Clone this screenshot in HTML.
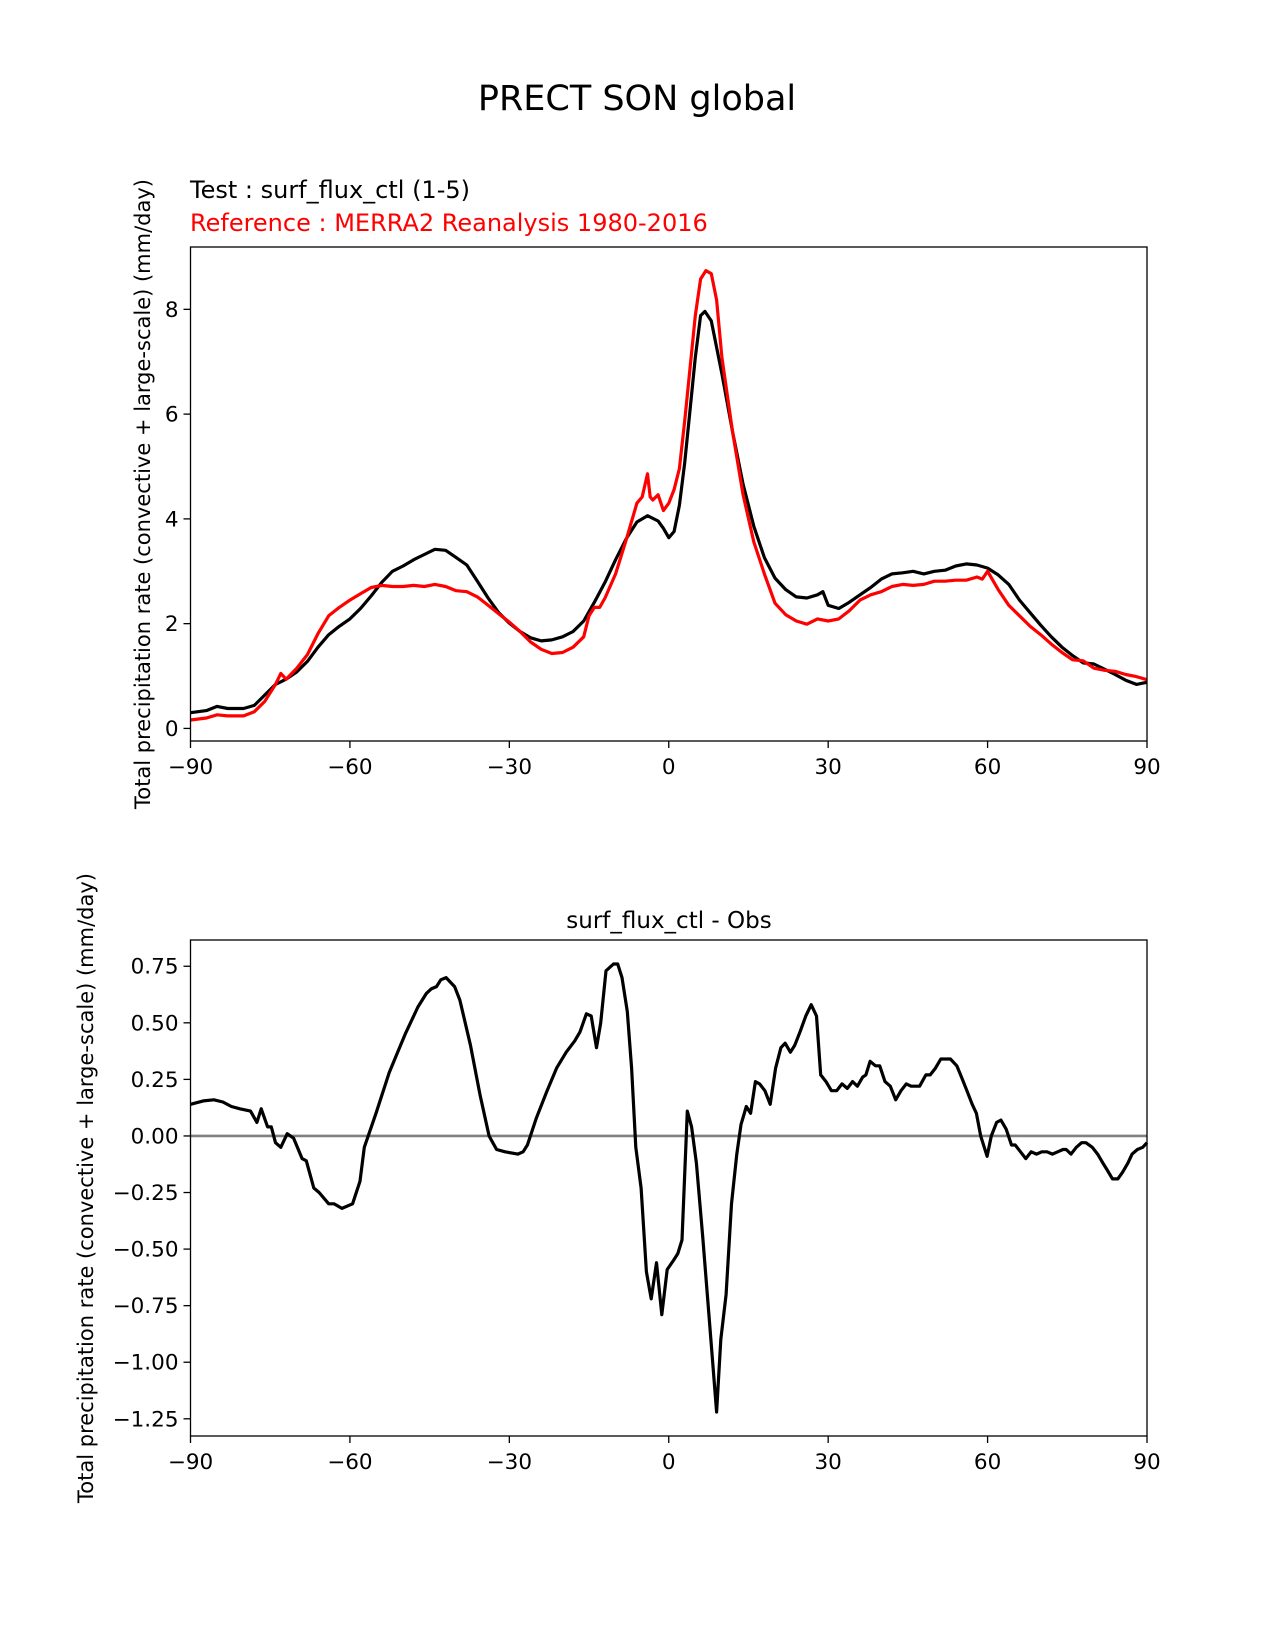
<!DOCTYPE html>
<html><head><meta charset="utf-8"><style>
body{margin:0;background:#fff;}
svg{display:block;font-family:"DejaVu Sans","Liberation Sans",sans-serif;}
</style></head><body>
<svg id="fig" width="1275" height="1650" viewBox="0 0 1275 1650">
<rect width="1275" height="1650" fill="#fff"/>
<text x="637" y="110" font-size="35" text-anchor="middle">PRECT SON global</text>
<text x="190" y="198" font-size="24">Test : surf_flux_ctl (1-5)</text>
<text x="190" y="231" font-size="24" fill="#ff0000">Reference : MERRA2 Reanalysis 1980-2016</text>
<text x="669" y="928" font-size="23" text-anchor="middle">surf_flux_ctl - Obs</text>
<text transform="translate(150,494) rotate(-90)" font-size="21" text-anchor="middle">Total precipitation rate (convective + large-scale) (mm/day)</text>
<text transform="translate(93,1188) rotate(-90)" font-size="21" text-anchor="middle">Total precipitation rate (convective + large-scale) (mm/day)</text>
<g id="top"></g>
<g id="bot"></g>
</svg>
<script>
const latTest=[-90,-87,-85,-83,-80,-78,-76,-74,-72,-70,-68,-66,-64,-62,-60,-58,-56,-54,-52,-50,-48,-46,-44,-42,-40,-38,-36,-34,-32,-30,-28,-26,-24,-22,-20,-18,-16,-14,-12,-10,-8,-6,-4,-2,-1,0,1,2,3,4,5,6,6.8,8,10,12,14,16,18,20,22,24,26,28,29,30,32,34,36,38,40,42,44,46,48,50,52,54,56,58,60,62,64,66,68,70,72,74,76,78,80,82,84,86,88,90];
const testVals=[0.30,0.34,0.42,0.38,0.38,0.44,0.64,0.84,0.94,1.08,1.28,1.55,1.79,1.95,2.09,2.29,2.53,2.79,3.0,3.1,3.22,3.32,3.42,3.4,3.26,3.12,2.81,2.49,2.21,2.01,1.85,1.73,1.67,1.69,1.75,1.85,2.05,2.41,2.79,3.22,3.62,3.94,4.06,3.96,3.82,3.64,3.76,4.26,5.07,6.07,7.08,7.88,7.96,7.78,6.77,5.67,4.66,3.86,3.26,2.87,2.65,2.51,2.49,2.55,2.61,2.35,2.29,2.41,2.55,2.69,2.85,2.95,2.97,3.0,2.95,3.0,3.02,3.1,3.14,3.12,3.06,2.93,2.75,2.45,2.21,1.97,1.75,1.55,1.39,1.25,1.23,1.13,1.03,0.92,0.84,0.88];
const latRef=[-90,-87,-85,-83,-80,-78,-76,-74,-73,-72,-70,-68,-66,-64,-62,-60,-58,-56,-54,-52,-50,-48,-46,-44,-42,-40,-38,-36,-34,-32,-30,-28,-26,-24,-22,-20,-18,-16,-15,-14,-13,-12,-10,-8,-6,-5,-4,-3.5,-3,-2,-1,0,1,2,3,4,5,6,7,8,9,10,12,14,16,18,20,22,24,26,28,30,32,34,36,38,40,42,44,46,48,50,52,54,56,58,59,60,62,64,66,68,70,72,74,76,78,80,82,84,86,88,90];
const refVals=[0.16,0.2,0.26,0.24,0.24,0.32,0.52,0.84,1.05,0.94,1.15,1.41,1.81,2.15,2.31,2.45,2.57,2.69,2.73,2.71,2.71,2.73,2.71,2.75,2.71,2.63,2.61,2.51,2.35,2.19,2.03,1.85,1.65,1.51,1.43,1.45,1.55,1.75,2.15,2.31,2.31,2.49,2.95,3.60,4.30,4.42,4.86,4.42,4.36,4.46,4.16,4.30,4.56,4.96,5.87,6.87,7.88,8.58,8.74,8.68,8.18,7.08,5.67,4.46,3.56,2.95,2.39,2.17,2.05,1.99,2.09,2.05,2.09,2.25,2.45,2.55,2.61,2.71,2.75,2.73,2.75,2.81,2.81,2.83,2.83,2.89,2.85,3.0,2.65,2.35,2.15,1.95,1.79,1.61,1.45,1.31,1.29,1.15,1.11,1.09,1.03,0.99,0.93];
const latDiff=[-90,-87.6,-85.6,-83.9,-82.3,-80.7,-78.7,-77.5,-76.7,-75.5,-74.8,-74,-73,-71.8,-70.6,-69,-68.2,-66.8,-65.8,-64,-63,-61.5,-59.5,-58.1,-57.3,-55.1,-52.6,-51.2,-49.6,-48.6,-47.2,-45.6,-44.7,-43.7,-42.9,-41.9,-40.3,-39.3,-37.3,-35.5,-33.8,-32.4,-30.8,-28.4,-27.4,-26.6,-24.9,-22.9,-21.1,-19.3,-17.7,-16.7,-15.5,-14.6,-13.6,-12.8,-11.8,-10.4,-9.6,-8.8,-7.8,-7.0,-6.2,-5.2,-4.2,-3.3,-2.3,-1.3,-0.3,0.9,1.7,2.5,3.5,4.3,5.2,6.4,7.6,9.0,9.8,10.8,11.8,12.8,13.6,14.6,15.4,16.3,17.1,18.1,19.1,20.1,21.1,21.9,22.9,23.7,24.7,25.8,26.8,27.8,28.6,29.6,30.6,31.6,32.6,33.6,34.6,35.5,36.5,37.1,37.9,38.9,39.7,40.7,41.7,42.7,43.7,44.7,45.6,47.2,48.4,49.2,50.2,51.2,53.0,54.2,55.1,56.1,57.1,57.9,58.7,59.9,60.7,61.7,62.5,63.5,64.5,65.2,66.2,67.2,68.2,69.2,70.2,71.2,72.2,73.2,74.2,74.8,75.7,76.7,77.7,78.5,79.7,80.7,81.7,82.5,83.5,84.5,85.4,86.4,87.2,88.2,89.2,90];
const diffVals=[0.14,0.155,0.16,0.15,0.13,0.12,0.11,0.06,0.12,0.04,0.04,-0.03,-0.05,0.01,-0.01,-0.1,-0.11,-0.23,-0.25,-0.3,-0.3,-0.32,-0.3,-0.2,-0.05,0.1,0.28,0.36,0.45,0.5,0.57,0.63,0.65,0.66,0.69,0.7,0.66,0.6,0.4,0.18,0.0,-0.06,-0.07,-0.08,-0.07,-0.04,0.08,0.2,0.3,0.37,0.42,0.46,0.54,0.53,0.39,0.5,0.73,0.76,0.76,0.7,0.55,0.3,-0.05,-0.23,-0.6,-0.72,-0.56,-0.79,-0.59,-0.55,-0.52,-0.46,0.11,0.04,-0.12,-0.45,-0.8,-1.22,-0.9,-0.7,-0.3,-0.08,0.05,0.13,0.1,0.24,0.23,0.2,0.14,0.3,0.39,0.41,0.37,0.4,0.46,0.53,0.58,0.53,0.27,0.24,0.2,0.2,0.23,0.21,0.24,0.22,0.26,0.27,0.33,0.31,0.31,0.24,0.22,0.16,0.2,0.23,0.22,0.22,0.27,0.27,0.3,0.34,0.34,0.31,0.26,0.2,0.14,0.1,0.0,-0.09,0.0,0.06,0.07,0.03,-0.04,-0.04,-0.07,-0.1,-0.07,-0.08,-0.07,-0.07,-0.08,-0.07,-0.06,-0.06,-0.08,-0.05,-0.03,-0.03,-0.05,-0.08,-0.12,-0.15,-0.19,-0.19,-0.16,-0.12,-0.08,-0.06,-0.05,-0.03];
const xTicks=[-90,-60,-30,0,30,60,90];
const xTickLabels=["\u221290","\u221260","\u221230","0","30","60","90"];
const topYTicks=[0,2,4,6,8];
const topYTickLabels=["0","2","4","6","8"];
const botYTicks=[0.75,0.5,0.25,0,-0.25,-0.5,-0.75,-1,-1.25];
const botYTickLabels=["0.75","0.50","0.25","0.00","\u22120.25","\u22120.50","\u22120.75","\u22121.00","\u22121.25"];

const NS="http://www.w3.org/2000/svg";
function mk(parent,tag,attrs){const e=document.createElementNS(NS,tag);for(const k in attrs)e.setAttribute(k,attrs[k]);parent.appendChild(e);return e;}
const L=190.5,R=1147;
function sx(lat){return L+(lat+90)/180*(R-L);}
function panel(g,top,bot,ymin,ymax,yt,ytl,prefix){
  const sy=v=>bot-(v-ymin)/(ymax-ymin)*(bot-top);
  xTicks.forEach((t,i)=>{
    const ln=mk(g,'line',{x1:sx(t),x2:sx(t),y1:bot,y2:bot+7,stroke:'#000','stroke-width':1.3});
    
    
    const tx=mk(g,'text',{x:sx(t),y:bot+33,'font-size':21.5,'text-anchor':'middle'});
    tx.textContent=xTickLabels[i];
    
    
  });
  yt.forEach((t,i)=>{
    const ln=mk(g,'line',{x1:L-7,x2:L,y1:sy(t),y2:sy(t),stroke:'#000','stroke-width':1.3});
    
    
    const tx=mk(g,'text',{x:L-12,y:sy(t)+7.5,'font-size':21.5,'text-anchor':'end'});
    tx.textContent=ytl[i];
    
    
  });
  return sy;
}
function line(g,lats,vals,sy,color,w,name){
  const d=lats.map((la,i)=>(i?'L':'M')+sx(la).toFixed(1)+','+sy(vals[i]).toFixed(1)).join('');
  const p=mk(g,'path',{d:d,fill:'none',stroke:color,'stroke-width':w,'stroke-linejoin':'round'});
  
  
}
function frame(g,top,bot,prefix){
  const r=mk(g,'rect',{x:L,y:top,width:R-L,height:bot-top,fill:'none',stroke:'#000','stroke-width':1.3});
  
  
}
const gt=document.getElementById('top');
const syT=panel(gt,247,741,-0.24,9.19,topYTicks,topYTickLabels,'top');
line(gt,latTest,testVals,syT,'#000',3.2,'test-line');
line(gt,latRef,refVals,syT,'#ff0000',3.2,'reference-line');
frame(gt,247,741,'top');
const gb=document.getElementById('bot');
const syB=panel(gb,940,1436,-1.326,0.866,botYTicks,botYTickLabels,'bottom');
const z=mk(gb,'line',{x1:L,x2:R,y1:syB(0),y2:syB(0),stroke:'#808080','stroke-width':2.6});


line(gb,latDiff,diffVals,syB,'#000',3.2,'difference-line');
frame(gb,940,1436,'bottom');
</script>
</body></html>
